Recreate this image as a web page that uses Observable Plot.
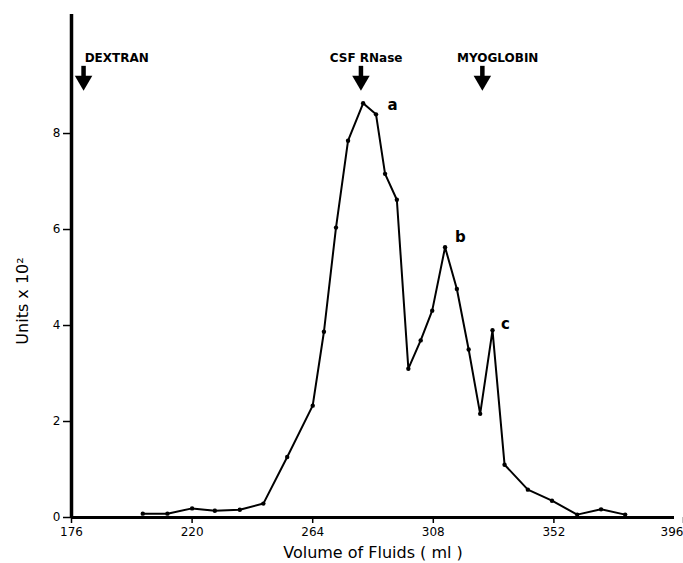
<!DOCTYPE html>
<html>
<head>
<meta charset="utf-8">
<script src="https://cdn.jsdelivr.net/npm/d3@7"></script>
<script src="https://cdn.jsdelivr.net/npm/@observablehq/plot@0.6"></script>
<style>
  html, body { margin: 0; padding: 0; background: #fff; }
  #chart svg { display: block; }
</style>
</head>
<body>
<div id="chart"></div>
<script>
// Elution volume (ml) and activity (Units x 10^2)
const volume = [202, 211, 220, 228.3, 237.4, 246, 254.7, 264, 268.1, 272.5, 276.9, 282.4, 287.1, 290.4, 294.7, 298.9, 303.4, 307.6, 312.3, 316.6, 320.9, 325.1, 329.6, 334, 342.5, 351.3, 360.5, 369.2, 378];
const units  = [0.08, 0.08, 0.19, 0.14, 0.16, 0.29, 1.26, 2.33, 3.87, 6.04, 7.85, 8.63, 8.4, 7.16, 6.62, 3.1, 3.69, 4.31, 5.63, 4.76, 3.5, 2.16, 3.9, 1.1, 0.58, 0.35, 0.06, 0.17, 0.06];

// Marker arrows (elution positions of standards)
const markerNames = ["DEXTRAN", "CSF RNase", "MYOGLOBIN"];
const markerVolume = [180.4, 281.6, 325.9];
const markerLabelVolume = [192.5, 283.5, 331.5];

// Peak labels
const peakNames = ["a", "b", "c"];
const peakLabelVolume = [293.1, 317.9, 334.3];
const peakLabelUnits = [8.6, 5.83, 4.02];

const xTicks = [176, 220, 264, 308, 352];
const xLastTick = [396];
const yTicks = [0, 2, 4, 6, 8];

const data = volume.map((v, i) => ({v, u: units[i]}));
const markers = markerNames.map((n, i) => ({n, v: markerVolume[i], lv: markerLabelVolume[i]}));
const peaks = peakNames.map((n, i) => ({n, v: peakLabelVolume[i], u: peakLabelUnits[i]}));

const font = "DejaVu Sans, sans-serif";

const chart = Plot.plot({
  width: 683,
  height: 563,
  marginLeft: 71,
  marginRight: 9,
  marginTop: 14,
  marginBottom: 46,
  style: {fontFamily: font, fontSize: "12px", color: "#000", background: "#fff"},
  x: {domain: [176, 396]},
  y: {domain: [0, 10.48]},
  marks: [
    Plot.axisX({ticks: xTicks, tickSize: 6, tickPadding: 4, tickFormat: d => String(d), strokeWidth: 1.5, fontSize: 12, label: null}),
    Plot.axisX({ticks: xLastTick, tickSize: 6, tickPadding: 4, tickFormat: d => String(d), strokeWidth: 1.5, fontSize: 12, label: null, textAnchor: "end", dx: 9}),
    Plot.axisY({ticks: yTicks, tickSize: 8, tickPadding: 3, tickFormat: d => String(d), strokeWidth: 1.5, fontSize: 12, label: null}),
    Plot.ruleY([0], {strokeWidth: 3, stroke: "#000"}),
    Plot.ruleX([176], {y1: 0, y2: 10.48, strokeWidth: 3.5, stroke: "#000"}),
    Plot.line(data, {x: "v", y: "u", stroke: "#000", strokeWidth: 2}),
    Plot.dot(data, {x: "v", y: "u", r: 2.2, fill: "#000", stroke: "none"}),
    // marker arrows
    Plot.ruleX(markers, {x: "v", y1: 9.4, y2: 9.13, stroke: "#000", strokeWidth: 4.5}),
    Plot.dot(markers, {x: "v", y: 9.1, symbol: "triangle", rotate: 180, r: 6.5, fill: "#000", stroke: "none"}),
    Plot.text(markers, {x: "lv", y: 9.58, text: "n", fontSize: 12, fontWeight: "bold", fontFamily: font, fill: "#000", style: "letter-spacing: 1.5px"}),
    // peak labels
    Plot.text(peaks, {x: "v", y: "u", text: "n", fontSize: 15, fontWeight: "bold", fontFamily: font, fill: "#000"}),
    // axis titles
    Plot.text(["Volume of Fluids ( ml )"], {frameAnchor: "bottom", dy: 40, fontSize: 16, fontFamily: font, fill: "#000", style: "letter-spacing: 0.6px"}),
    Plot.text(["Units x 10²"], {frameAnchor: "left", textAnchor: "middle", dx: -49, dy: 35, rotate: -90, fontSize: 16, fontFamily: font, fill: "#000", style: "letter-spacing: 1px"})
  ]
});

document.getElementById("chart").appendChild(chart);
</script>
</body>
</html>
